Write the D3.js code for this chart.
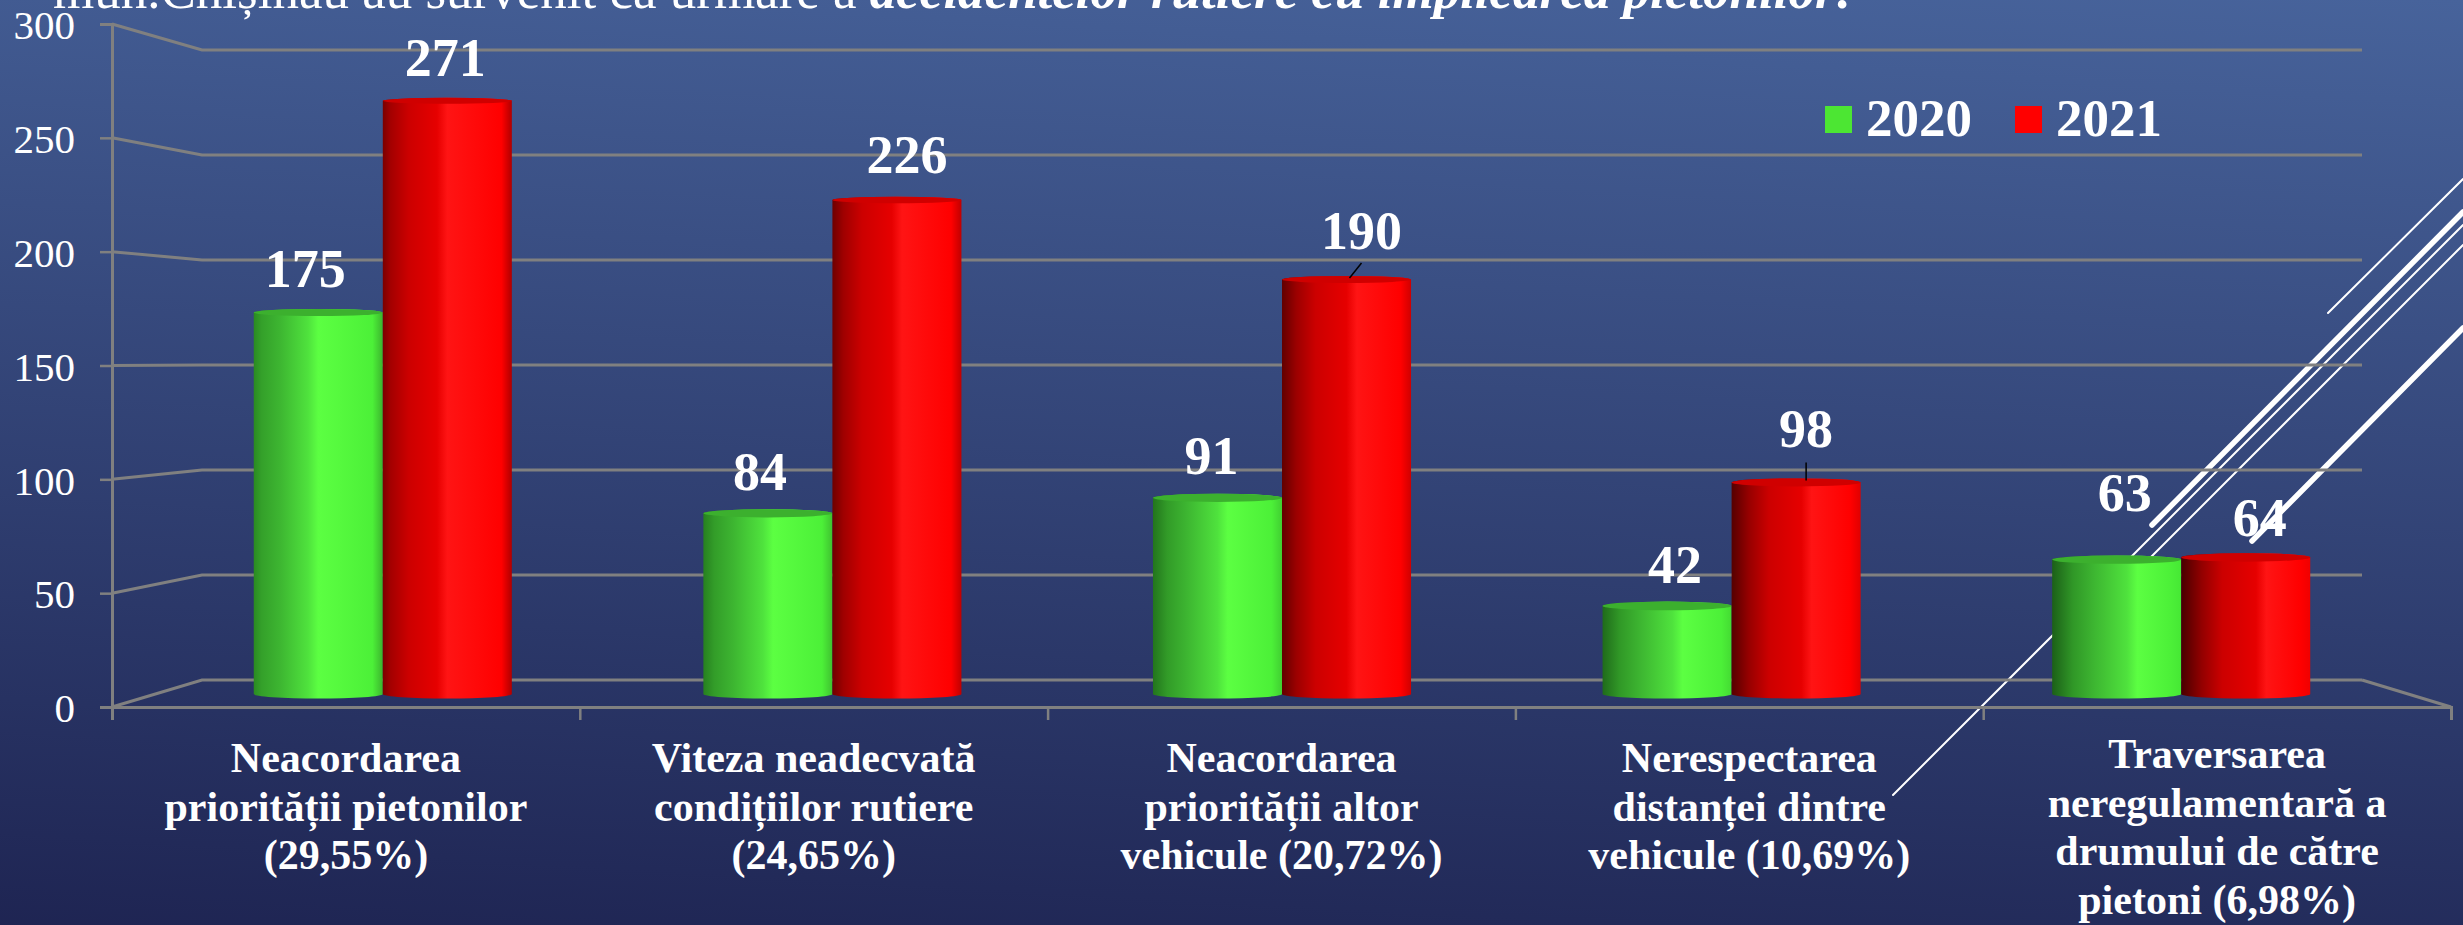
<!DOCTYPE html>
<html>
<head>
<meta charset="utf-8">
<title>Accidente rutiere</title>
<script src="https://cdn.jsdelivr.net/npm/d3@7"></script>
<style>
	html, body { margin: 0; padding: 0; background: #1e2452; overflow: hidden; }
	svg { display: block; }
	text { font-family: "Liberation Serif", serif; fill: #fff; }
</style>
</head>
<body>
<div id="chart"></div>
<script>
var categories = [
	"Neacordarea\npriorității pietonilor\n(29,55%)",
	"Viteza neadecvată\ncondițiilor rutiere\n(24,65%)",
	"Neacordarea\npriorității altor\nvehicule (20,72%)",
	"Nerespectarea\ndistanței dintre\nvehicule (10,69%)",
	"Traversarea\nneregulamentară a\ndrumului de către\npietoni (6,98%)"
];
var seriesNames = ["2020", "2021"];
var values2020 = [175, 84, 91, 42, 63];
var values2021 = [271, 226, 190, 98, 64];
var yTicks = [0, 50, 100, 150, 200, 250, 300];

var width = 2463,
		height = 925;

// label nudges, the original chart has hand placed labels: [dx, dy above bar top]
var labelNudge2020 = [[-13, 22], [-8, 19], [-6, 20], [8, 19], [8, 44]];
var labelNudge2021 = [[-2, 22], [10, 24], [15, 27], [10, 31], [14, 17]];

var svg = d3.select("div#chart").append("svg")
		.attr("width", width)
		.attr("height", height);

var defs = svg.append("defs");

var bg = defs.append("linearGradient")
		.attr("id", "bg")
		.attr("gradientUnits", "userSpaceOnUse")
		.attr("x1", width).attr("y1", 0)
		.attr("x2", width - 60).attr("y2", 1070);
bg.append("stop").attr("offset", "0").attr("stop-color", "#47639b");
bg.append("stop").attr("offset", "1").attr("stop-color", "#1e2452");

svg.append("rect")
		.attr("width", width)
		.attr("height", height)
		.attr("fill", "url(#bg)");

// slide decoration behind the chart
var deco = [
	[2328, 313, 2463, 179, 2],
	[2152, 525, 2463, 212, 5.5],
	[1893, 795, 2463, 225, 2],
	[2100, 608, 2463, 245, 2],
	[2252, 541, 2463, 328, 5.5]
];
svg.append("g").selectAll("line")
		.data(deco)
		.enter().append("line")
		.attr("x1", function(d) { return d[0]; })
		.attr("y1", function(d) { return d[1]; })
		.attr("x2", function(d) { return d[2]; })
		.attr("y2", function(d) { return d[3]; })
		.attr("stroke", "#fff")
		.attr("stroke-width", function(d) { return d[4]; })
		.attr("stroke-linecap", "round");

// title line, cut off by the top of the picture
var title = svg.append("text")
		.attr("x", 53)
		.attr("y", 8)
		.attr("font-size", 53);
title.append("tspan").text("mun.Chișinău au survenit ca urmare a ");
title.append("tspan")
		.attr("font-weight", "bold")
		.attr("font-style", "italic")
		.text("accidentelor rutiere cu implicarea pietonilor");
title.append("tspan").attr("font-weight", "bold").text(".");

// the fake 3d box has a front plane, a back wall and the bars sit in between
var yFront = d3.scaleLinear().domain([0, 300]).range([707, 24]);
var yBack = d3.scaleLinear().domain([0, 300]).range([680, 50]);
var yBar = d3.scaleLinear().domain([0, 300]).range([694, 34]);

var xFront = d3.scaleBand().domain(categories).range([112, 2451]);
var xEdges = d3.scaleLinear().domain([0, categories.length]).range([112, 2451]);
var xGroup = d3.scaleBand()
		.domain(categories)
		.range([158, 2406])
		.paddingInner(0.426)
		.paddingOuter(0.213);
var xBar = d3.scaleBand().domain(seriesNames).range([0, xGroup.bandwidth()]);

var backLeft = 202,
		backRight = 2362,
		gridColor = "#808080";

svg.append("g")
		.attr("class", "grid")
	.selectAll("path")
		.data(yTicks)
		.enter().append("path")
		.attr("fill", "none")
		.attr("stroke", gridColor)
		.attr("stroke-width", 3)
		.attr("d", function(d) {
			return d3.line()([[xEdges(0), yFront(d)], [backLeft, yBack(d)], [backRight, yBack(d)]]);
		});

svg.append("path")
		.attr("fill", "none")
		.attr("stroke", gridColor)
		.attr("stroke-width", 3)
		.attr("d", d3.line()([[backRight, yBack(0)], [xEdges(categories.length), yFront(0)]]));

var yAxis = d3.axisLeft(yFront)
		.tickValues(yTicks)
		.tickSize(12)
		.tickPadding(25);

var yg = svg.append("g")
		.attr("class", "y axis")
		.attr("transform", "translate(" + xEdges(0) + ",0)")
		.call(yAxis);

var xAxis = d3.axisBottom(xEdges)
		.ticks(categories.length)
		.tickSize(13)
		.tickFormat("");

var xg = svg.append("g")
		.attr("class", "x axis")
		.attr("transform", "translate(0," + yFront(0) + ")")
		.call(xAxis);

svg.selectAll(".axis path, .axis line")
		.attr("stroke", gridColor)
		.attr("stroke-width", 2.5);
svg.selectAll(".axis .domain").attr("stroke-width", 3);

yg.selectAll("text")
		.attr("font-size", 41)
		.attr("font-family", "Liberation Serif")
		.attr("dy", "0.36em");

// category labels
svg.append("g").selectAll("text")
		.data(categories)
		.enter().append("text")
		.attr("text-anchor", "middle")
		.attr("font-weight", "bold")
		.attr("font-size", 42)
		.each(function(d) {
			var lines = d.split("\n");
			var el = d3.select(this);
			var x = xFront(d) + xFront.bandwidth() / 2;
			var top = lines.length > 3 ? 768 : 772;
			lines.forEach(function(l, i) {
				el.append("tspan")
						.attr("x", x)
						.attr("y", top + i * 48.5)
						.text(l);
			});
		});

// cylinders, the camera sits high so low bars show more of their top
var baseRy = 4.5;
var topRy = d3.scaleLinear().domain([0, 300]).range([4.6, 2.8]);

function cylinder(x, w, yTop, yBase, ry) {
	var rx = w / 2,
			yc = yTop + ry;
	return "M" + x + "," + yc +
			"L" + x + "," + yBase +
			"A" + rx + "," + baseRy + " 0 0 0 " + (x + w) + "," + yBase +
			"L" + (x + w) + "," + yc +
			"A" + rx + "," + ry + " 0 0 0 " + x + "," + yc + "Z";
}

var barSeries = [
	{
		name: seriesNames[0], values: values2020, top: "#3cb02e", nudge: labelNudge2020,
		left: ["#2a8a22", "#1c6018"], mid: "#3db531", main: "#4fe23d", light: "#5cff42", after: "#4cf038", edge: ["#3cb52e", "#46e835"]
	},
	{
		name: seriesNames[1], values: values2021, top: "#d00000", nudge: labelNudge2021,
		left: ["#7a0000", "#480000"], mid: "#cc0000", main: "#e60000", light: "#ff1414", after: "#ff0000", edge: ["#b00000", "#f00000"]
	}
];

// the highlight slides to the right from the first group to the last
function barGradient(s, i) {
	var t = i / (categories.length - 1),
			id = "bar" + s.name + "-" + i,
			peak = 0.5 + 0.16 * t;
	var stops = [
		[0, d3.interpolateRgb(s.left[0], s.left[1])(t)],
		[0.06 + 0.1 * t, d3.interpolateRgb(s.left[0], s.mid)(0.5 - 0.2 * t)],
		[0.2 + 0.12 * t, s.mid],
		[peak - 0.08, s.main],
		[peak, s.light],
		[0.92, s.after],
		[1, d3.interpolateRgb(s.edge[0], s.edge[1])(t)]
	];
	var g = defs.append("linearGradient").attr("id", id);
	stops.forEach(function(p) {
		g.append("stop").attr("offset", p[0]).attr("stop-color", p[1]);
	});
	return "url(#" + id + ")";
}

barSeries.forEach(function(s) {
	var g = svg.append("g").attr("class", "series");

	g.selectAll("path")
			.data(s.values)
			.enter().append("path")
			.attr("fill", function(d, i) { return barGradient(s, i); })
			.attr("d", function(d, i) {
				return cylinder(xGroup(categories[i]) + xBar(s.name), xBar.bandwidth(), yBar(d), yBar(0), topRy(d));
			});

	g.selectAll("ellipse")
			.data(s.values)
			.enter().append("ellipse")
			.attr("fill", s.top)
			.attr("cx", function(d, i) { return xGroup(categories[i]) + xBar(s.name) + xBar.bandwidth() / 2; })
			.attr("cy", function(d) { return yBar(d) + topRy(d); })
			.attr("rx", xBar.bandwidth() / 2)
			.attr("ry", function(d) { return topRy(d); });
});

// value labels
barSeries.forEach(function(s) {
	svg.append("g").selectAll("text")
			.data(s.values)
			.enter().append("text")
			.attr("text-anchor", "middle")
			.attr("font-weight", "bold")
			.attr("font-size", 54)
			.attr("x", function(d, i) { return xGroup(categories[i]) + xBar(s.name) + xBar.bandwidth() / 2 + s.nudge[i][0]; })
			.attr("y", function(d, i) { return yBar(d) - s.nudge[i][1]; })
			.text(function(d) { return d; });
});

// leader lines of the two moved labels
function leader(catIndex, dxBottom, dxTop, rise) {
	var cx = xGroup(categories[catIndex]) + xBar(seriesNames[1]) + xBar.bandwidth() / 2;
	var top = yBar(values2021[catIndex]);
	svg.append("line")
			.attr("x1", cx + dxBottom).attr("y1", top + 2)
			.attr("x2", cx + dxTop).attr("y2", top - rise)
			.attr("stroke", "#000")
			.attr("stroke-width", 1.5);
}
leader(2, 3, 15, 13);
leader(3, 10, 10, 16);

// legend
var legendColors = ["#4ce633", "#ff0000"];
var legendX = [1825, 2015];
var legend = svg.append("g").selectAll("g")
		.data(seriesNames)
		.enter().append("g")
		.attr("transform", function(d, i) { return "translate(" + legendX[i] + ",106)"; });
legend.append("rect")
		.attr("width", 27)
		.attr("height", 27)
		.attr("fill", function(d, i) { return legendColors[i]; });
legend.append("text")
		.attr("x", 41)
		.attr("y", 30)
		.attr("font-weight", "bold")
		.attr("font-size", 53)
		.text(function(d) { return d; });
</script>
</body>
</html>
